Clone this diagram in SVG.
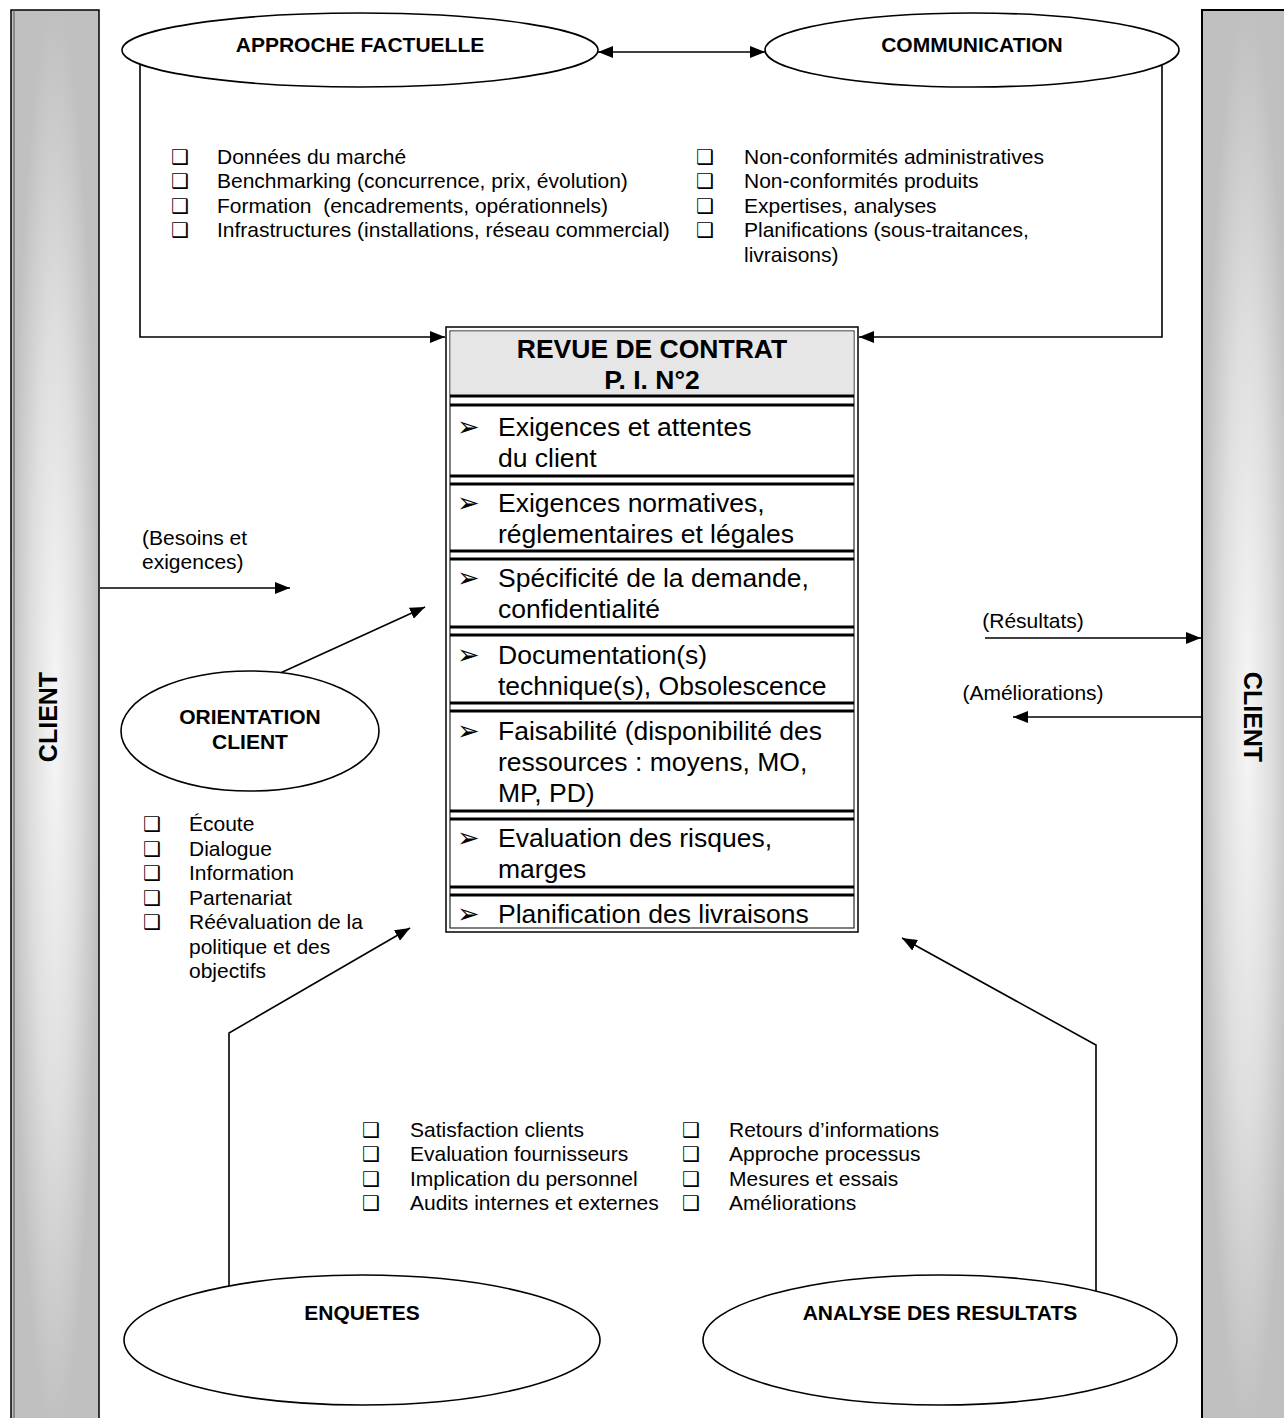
<svg xmlns="http://www.w3.org/2000/svg" width="1284" height="1418" viewBox="0 0 1284 1418">
<style>
.t{font-family:"Liberation Sans",Arial,sans-serif;fill:#000}
.s{font-size:21px}
.b{font-weight:bold}
.r{font-size:26.5px}
.cb{font-family:"DejaVu Sans",sans-serif;font-size:20px}
.ar{font-family:"DejaVu Sans",sans-serif;font-size:27px}
.el{fill:#fff;stroke:#000;stroke-width:1.6}
.ln{fill:none;stroke:#000;stroke-width:1.6}
.sep{stroke:#000;stroke-width:3}
</style>
<defs>
<radialGradient id="bar" cx="0.5" cy="0.5" r="0.5">
<stop offset="0" stop-color="#f6f6f6"/>
<stop offset="0.55" stop-color="#dedede"/>
<stop offset="1" stop-color="#c0c0c0"/>
</radialGradient>
<marker id="ah" markerUnits="userSpaceOnUse" markerWidth="16" markerHeight="12" refX="15" refY="6" orient="auto-start-reverse">
<path d="M0,0 L15,6 L0,12 z" fill="#000"/>
</marker>
</defs>
<rect width="1284" height="1418" fill="#fff"/>

<g id="client-left">
<rect x="11" y="10" width="88" height="1420" fill="url(#bar)" stroke="#000" stroke-width="1.5"/>
<line x1="14" y1="10" x2="14" y2="1418" stroke="#555" stroke-width="1"/>
<text class="t b" font-size="25" text-anchor="middle" transform="translate(57,717) rotate(-90)">CLIENT</text>
</g>
<g id="client-right">
<rect x="1202" y="10" width="90" height="1420" fill="url(#bar)" stroke="#000" stroke-width="2"/>
<text class="t b" font-size="25" text-anchor="middle" transform="translate(1244,717) rotate(90)">CLIENT</text>
</g>

<g id="connectors">
<line class="ln" x1="598" y1="52" x2="765" y2="52" marker-start="url(#ah)" marker-end="url(#ah)"/>
<polyline class="ln" points="140,64 140,337 445,337" marker-end="url(#ah)"/>
<polyline class="ln" points="1162,64 1162,337 859,337" marker-end="url(#ah)"/>
<line class="ln" x1="100" y1="588" x2="290" y2="588" marker-end="url(#ah)"/>
<line class="ln" x1="265" y1="680" x2="425" y2="607" marker-end="url(#ah)"/>
<line class="ln" x1="985" y1="638" x2="1201" y2="638" marker-end="url(#ah)"/>
<line class="ln" x1="1201" y1="717" x2="1013" y2="717" marker-end="url(#ah)"/>
<polyline class="ln" points="229,1294 229,1033 410,928" marker-end="url(#ah)"/>
<polyline class="ln" points="1096,1294 1096,1045 902,938" marker-end="url(#ah)"/>
</g>

<g id="approche-factuelle">
<ellipse class="el" cx="360" cy="50" rx="238" ry="37"/>
<text class="t s b" x="360" y="52" text-anchor="middle">APPROCHE FACTUELLE</text>
</g>
<g id="communication">
<ellipse class="el" cx="972" cy="50" rx="207" ry="37"/>
<text class="t s b" x="972" y="52" text-anchor="middle">COMMUNICATION</text>
</g>

<g id="list-factuelle">
<text class="cb" x="171" y="164">❑</text><text class="t s" x="217" y="164">Données du marché</text>
<text class="cb" x="171" y="188">❑</text><text class="t s" x="217" y="188">Benchmarking (concurrence, prix, évolution)</text>
<text class="cb" x="171" y="213">❑</text><text class="t s" x="217" y="213">Formation&#160; (encadrements, opérationnels)</text>
<text class="cb" x="171" y="237">❑</text><text class="t s" x="217" y="237">Infrastructures (installations, réseau commercial)</text>
</g>
<g id="list-communication">
<text class="cb" x="696" y="164">❑</text><text class="t s" x="744" y="164">Non-conformités administratives</text>
<text class="cb" x="696" y="188">❑</text><text class="t s" x="744" y="188">Non-conformités produits</text>
<text class="cb" x="696" y="213">❑</text><text class="t s" x="744" y="213">Expertises, analyses</text>
<text class="cb" x="696" y="237">❑</text><text class="t s" x="744" y="237">Planifications (sous-traitances,</text>
<text class="t s" x="744" y="262">livraisons)</text>
</g>

<g id="revue-contrat">
<rect x="446" y="327" width="412" height="605" fill="#fff" stroke="#000" stroke-width="1.5"/>
<rect x="450" y="331" width="404" height="597" fill="#fff" stroke="#000" stroke-width="1"/>
<rect x="450.5" y="331.5" width="403" height="63" fill="#e6e6e6"/>
<text class="t r b" x="652" y="358" text-anchor="middle">REVUE DE CONTRAT</text>
<text class="t r b" x="652" y="389" text-anchor="middle">P. I. N°2</text>
<g>
<line class="sep" x1="450" y1="396" x2="854" y2="396"/><line class="sep" x1="450" y1="405" x2="854" y2="405"/>
<line class="sep" x1="450" y1="476" x2="854" y2="476"/><line class="sep" x1="450" y1="484" x2="854" y2="484"/>
<line class="sep" x1="450" y1="551" x2="854" y2="551"/><line class="sep" x1="450" y1="559" x2="854" y2="559"/>
<line class="sep" x1="450" y1="627" x2="854" y2="627"/><line class="sep" x1="450" y1="635" x2="854" y2="635"/>
<line class="sep" x1="450" y1="703" x2="854" y2="703"/><line class="sep" x1="450" y1="711" x2="854" y2="711"/>
<line class="sep" x1="450" y1="811" x2="854" y2="811"/><line class="sep" x1="450" y1="819" x2="854" y2="819"/>
<line class="sep" x1="450" y1="887" x2="854" y2="887"/><line class="sep" x1="450" y1="895" x2="854" y2="895"/>
</g>
<text class="ar" x="457" y="436">➢</text><text class="t r" x="498" y="436">Exigences et attentes</text>
<text class="t r" x="498" y="467">du client</text>
<text class="ar" x="457" y="512">➢</text><text class="t r" x="498" y="512">Exigences normatives,</text>
<text class="t r" x="498" y="543">réglementaires et légales</text>
<text class="ar" x="457" y="587">➢</text><text class="t r" x="498" y="587">Spécificité de la demande,</text>
<text class="t r" x="498" y="618">confidentialité</text>
<text class="ar" x="457" y="664">➢</text><text class="t r" x="498" y="664">Documentation(s)</text>
<text class="t r" x="498" y="695">technique(s), Obsolescence</text>
<text class="ar" x="457" y="740">➢</text><text class="t r" x="498" y="740">Faisabilité (disponibilité des</text>
<text class="t r" x="498" y="771">ressources : moyens, MO,</text>
<text class="t r" x="498" y="802">MP, PD)</text>
<text class="ar" x="457" y="847">➢</text><text class="t r" x="498" y="847">Evaluation des risques,</text>
<text class="t r" x="498" y="878">marges</text>
<text class="ar" x="457" y="923">➢</text><text class="t r" x="498" y="923">Planification des livraisons</text>
</g>

<g id="besoins-label">
<text class="t s" x="142" y="545">(Besoins et</text>
<text class="t s" x="142" y="569">exigences)</text>
</g>

<g id="orientation-client">
<ellipse class="el" cx="250" cy="731" rx="129" ry="60"/>
<text class="t s b" x="250" y="724" text-anchor="middle">ORIENTATION</text>
<text class="t s b" x="250" y="749" text-anchor="middle">CLIENT</text>
</g>
<g id="list-orientation">
<text class="cb" x="143" y="831">❑</text><text class="t s" x="189" y="831">Écoute</text>
<text class="cb" x="143" y="856">❑</text><text class="t s" x="189" y="856">Dialogue</text>
<text class="cb" x="143" y="880">❑</text><text class="t s" x="189" y="880">Information</text>
<text class="cb" x="143" y="905">❑</text><text class="t s" x="189" y="905">Partenariat</text>
<text class="cb" x="143" y="929">❑</text><text class="t s" x="189" y="929">Réévaluation de la</text>
<text class="t s" x="189" y="954">politique et des</text>
<text class="t s" x="189" y="978">objectifs</text>
</g>

<g id="resultats-label">
<text class="t s" x="1033" y="628" text-anchor="middle">(Résultats)</text>
<text class="t s" x="1033" y="700" text-anchor="middle">(Améliorations)</text>
</g>

<g id="list-enquetes">
<text class="cb" x="362" y="1137">❑</text><text class="t s" x="410" y="1137">Satisfaction clients</text>
<text class="cb" x="362" y="1161">❑</text><text class="t s" x="410" y="1161">Evaluation fournisseurs</text>
<text class="cb" x="362" y="1186">❑</text><text class="t s" x="410" y="1186">Implication du personnel</text>
<text class="cb" x="362" y="1210">❑</text><text class="t s" x="410" y="1210">Audits internes et externes</text>
</g>
<g id="list-analyse">
<text class="cb" x="682" y="1137">❑</text><text class="t s" x="729" y="1137">Retours d’informations</text>
<text class="cb" x="682" y="1161">❑</text><text class="t s" x="729" y="1161">Approche processus</text>
<text class="cb" x="682" y="1186">❑</text><text class="t s" x="729" y="1186">Mesures et essais</text>
<text class="cb" x="682" y="1210">❑</text><text class="t s" x="729" y="1210">Améliorations</text>
</g>

<g id="enquetes">
<ellipse class="el" cx="362" cy="1340" rx="238" ry="65"/>
<text class="t s b" x="362" y="1320" text-anchor="middle">ENQUETES</text>
</g>
<g id="analyse-resultats">
<ellipse class="el" cx="940" cy="1340" rx="237" ry="65"/>
<text class="t s b" x="940" y="1320" text-anchor="middle">ANALYSE DES RESULTATS</text>
</g>
</svg>
